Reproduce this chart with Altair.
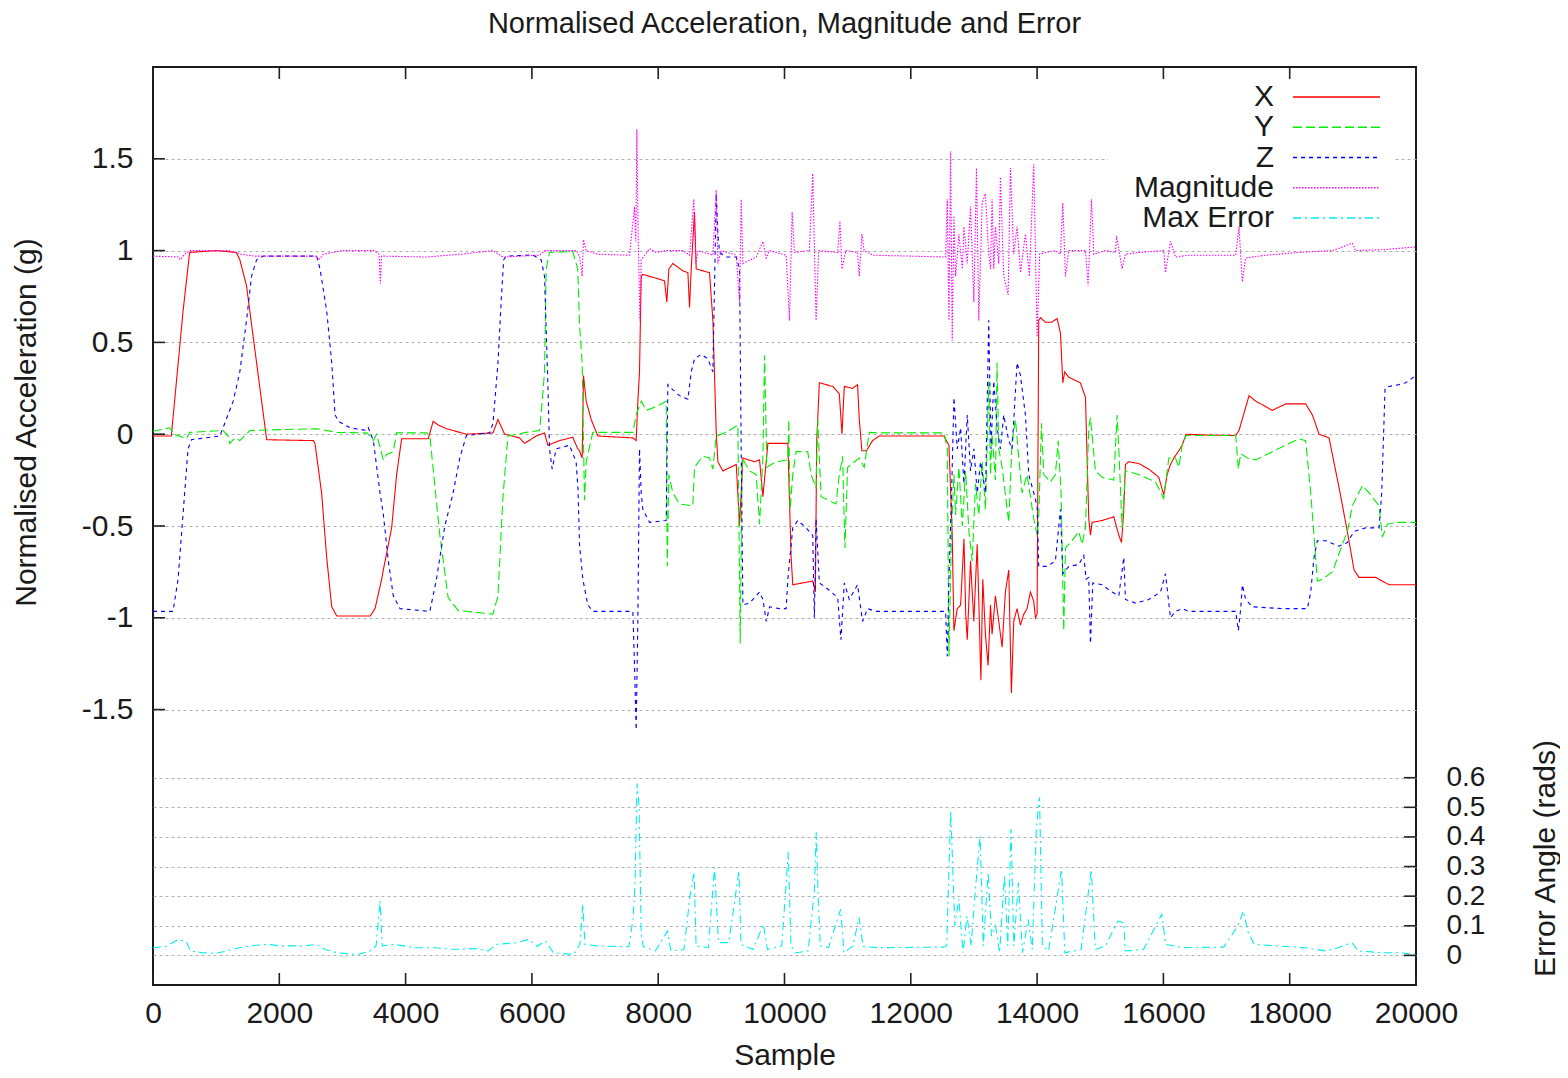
import altair as alt
import pandas as pd

# ---------------- data (sample, value) ----------------
x_points = [
    (0, -0.01), (290, -0.01), (476, 0.67), (580, 0.99), (1000, 1.0), (1320, 0.99), (1375, 0.95),
    (1480, 0.81), (1800, -0.03), (2540, -0.035), (2565, -0.05), (2670, -0.32), (2750, -0.67),
    (2830, -0.94), (2910, -0.99), (3440, -0.99), (3516, -0.95), (3621, -0.79), (3647, -0.74),
    (3779, -0.51), (3858, -0.22), (3937, -0.025), (4358, -0.025), (4437, 0.07), (4516, 0.05),
    (4647, 0.03), (4858, 0.01), (4963, 0.0), (5384, 0.007), (5463, 0.08), (5568, 0.0),
    (5805, -0.02), (5884, -0.05), (6068, -0.01), (6200, 0.007), (6253, -0.06), (6437, -0.035),
    (6647, -0.016), (6726, -0.08), (6754, -0.09), (6796, -0.13), (6817, 0.32), (6860, 0.18),
    (6939, 0.08), (7044, -0.01), (7599, -0.02), (7651, -0.035), (7678, 0.18), (7704, 0.34),
    (7731, 0.86), (7757, 0.87), (7968, 0.85), (8100, 0.835), (8137, 0.72), (8169, 0.9),
    (8232, 0.93), (8391, 0.89), (8470, 0.88), (8496, 0.69), (8523, 0.9), (8575, 1.21),
    (8602, 0.9), (8813, 0.88), (8866, 0.62), (8919, 0.01), (8945, -0.15), (9024, -0.2),
    (9236, -0.165), (9288, -0.5), (9341, -0.13), (9526, -0.15), (9605, -0.14), (9658, -0.34),
    (9737, -0.05), (10053, -0.05), (10105, -0.67), (10131, -0.82), (10447, -0.8), (10489, -0.86),
    (10510, -0.04), (10552, 0.28), (10763, 0.26), (10868, 0.22), (10910, 0.0), (10947, 0.26),
    (11078, 0.25), (11157, 0.27), (11184, 0.08), (11226, -0.09), (11299, -0.09), (11394, -0.035),
    (11499, -0.01), (12525, -0.01), (12604, -0.06), (12656, -0.55), (12683, -1.07), (12736, -0.95),
    (12789, -0.93), (12842, -0.57), (12870, -0.98), (12894, -1.12), (12946, -0.69), (12998, -1.02),
    (13051, -0.6), (13077, -0.91), (13110, -1.34), (13140, -0.79), (13182, -1.09), (13224, -1.26),
    (13262, -0.93), (13287, -1.09), (13340, -0.88), (13393, -1.02), (13446, -1.16), (13498, -0.86),
    (13551, -0.74), (13593, -1.41), (13630, -1.02), (13683, -0.95), (13736, -1.04), (13789, -0.98),
    (13842, -0.95), (13894, -0.86), (13947, -0.91), (13974, -1.0), (14000, -0.98), (14026, 0.62),
    (14053, 0.635), (14132, 0.61), (14230, 0.61), (14317, 0.63), (14370, 0.55), (14407, 0.28),
    (14438, 0.34), (14502, 0.31), (14686, 0.28), (14766, 0.2), (14818, -0.46), (14845, -0.55),
    (14871, -0.48), (15030, -0.47), (15214, -0.45), (15294, -0.55), (15336, -0.59), (15370, -0.43),
    (15399, -0.165), (15452, -0.15), (15610, -0.16), (15769, -0.19), (15927, -0.235), (16006, -0.33),
    (16059, -0.22), (16112, -0.165), (16165, -0.13), (16244, -0.09), (16297, -0.06), (16360, 0.0),
    (16719, -0.005), (17145, -0.007), (17197, 0.02), (17356, 0.21), (17462, 0.18), (17725, 0.13),
    (17937, 0.165), (18253, 0.165), (18359, 0.105), (18465, 0.0), (18623, -0.02), (18781, -0.29),
    (18913, -0.53), (19019, -0.74), (19098, -0.78), (19362, -0.78), (19573, -0.82), (20000, -0.82),
]

y_points = [
    (0, 0.016), (265, 0.035), (330, 0.0), (529, -0.024), (582, 0.01), (1111, 0.02), (1190, -0.01),
    (1217, -0.05), (1300, -0.02), (1375, -0.035), (1480, 0.0), (1534, 0.02), (2592, 0.03),
    (2910, 0.01), (3386, 0.007), (3437, -0.01), (3489, -0.035), (3540, 0.0), (3647, -0.14),
    (3700, -0.11), (3805, -0.095), (3858, 0.007), (4332, 0.007), (4384, -0.01), (4542, -0.55),
    (4674, -0.89), (4832, -0.96), (5384, -0.98), (5463, -0.88), (5542, -0.34), (5621, -0.01),
    (5910, 0.01), (6121, 0.02), (6163, 0.18), (6200, 0.34), (6226, 0.9), (6279, 0.99),
    (6647, 0.995), (6726, 0.9), (6754, 0.6), (6796, 0.39), (6833, -0.36), (6860, -0.15),
    (6965, 0.01), (7599, 0.01), (7651, 0.105), (7731, 0.18), (7810, 0.13), (7968, 0.15),
    (8127, 0.18), (8143, -0.72), (8169, -0.22), (8232, -0.32), (8338, -0.38), (8549, -0.39),
    (8575, -0.18), (8707, -0.12), (8813, -0.13), (8866, -0.19), (8919, -0.01), (9077, 0.01),
    (9262, 0.05), (9299, -1.14), (9330, -0.13), (9446, -0.2), (9552, -0.22), (9605, -0.49),
    (9658, -0.13), (9684, 0.43), (9721, -0.18), (9869, -0.15), (10054, -0.14), (10068, 0.08),
    (10089, -0.41), (10131, -0.22), (10184, -0.095), (10368, -0.095), (10421, -0.22),
    (10500, -0.29), (10526, 0.08), (10579, -0.34), (10815, -0.38), (10868, -0.22), (10920, -0.12),
    (10957, -0.62), (11000, -0.18), (11184, -0.13), (11262, -0.18), (11341, 0.01), (11499, 0.007),
    (12525, 0.007), (12578, -0.08), (12604, -1.21), (12646, -0.51), (12683, -0.22), (12710, -0.44),
    (12762, -0.18), (12815, -0.5), (12868, -0.2), (12920, -0.53), (12973, -0.69), (13025, -0.27),
    (13077, -0.44), (13130, -0.15), (13182, -0.41), (13208, -0.08), (13234, 0.29), (13262, -0.22),
    (13287, 0.0), (13340, -0.25), (13366, 0.39), (13393, -0.08), (13446, -0.18), (13551, -0.48),
    (13604, -0.04), (13657, 0.08), (13710, -0.13), (13762, -0.32), (13842, -0.22), (13894, -0.34),
    (13947, -0.46), (14000, -0.55), (14026, -0.46), (14069, 0.06), (14106, -0.22), (14211, -0.26),
    (14290, -0.22), (14333, -0.035), (14380, -0.32), (14422, -1.07), (14449, -0.62), (14554, -0.58),
    (14660, -0.53), (14713, -0.6), (14766, -0.51), (14818, 0.035), (14845, 0.09), (14924, -0.2),
    (15030, -0.235), (15214, -0.25), (15267, 0.105), (15294, -0.08), (15346, -0.51), (15399, -0.2),
    (15610, -0.22), (15874, -0.26), (16006, -0.35), (16086, -0.13), (16191, -0.13), (16244, -0.18),
    (16297, -0.06), (16360, -0.007), (17145, -0.007), (17187, -0.19), (17224, -0.105),
    (17330, -0.13), (17462, -0.14), (17725, -0.095), (17937, -0.06), (18148, -0.025),
    (18253, -0.035), (18333, -0.32), (18385, -0.55), (18438, -0.8), (18517, -0.79), (18676, -0.75),
    (18781, -0.65), (18913, -0.53), (18992, -0.39), (19151, -0.28), (19257, -0.32), (19415, -0.39),
    (19468, -0.56), (19547, -0.49), (19732, -0.48), (20000, -0.48),
]

z_points = [
    (0, -0.965), (317, -0.965), (397, -0.79), (476, -0.435), (555, -0.08), (608, -0.03),
    (740, -0.024), (1058, -0.01), (1137, 0.06), (1270, 0.18), (1375, 0.34), (1481, 0.62),
    (1560, 0.86), (1640, 0.95), (1746, 0.97), (2592, 0.97), (2645, 0.9), (2751, 0.67),
    (2830, 0.39), (2883, 0.105), (2936, 0.07), (3121, 0.035), (3386, 0.02), (3410, 0.035),
    (3489, -0.035), (3595, -0.32), (3647, -0.435), (3726, -0.69), (3805, -0.88), (3911, -0.95),
    (4384, -0.965), (4489, -0.79), (4621, -0.5), (4753, -0.32), (4858, -0.13), (4963, -0.007),
    (5332, 0.007), (5384, 0.06), (5463, 0.39), (5516, 0.74), (5553, 0.95), (5595, 0.97),
    (6016, 0.976), (6147, 0.95), (6200, 0.86), (6253, 0.27), (6279, -0.08), (6321, -0.19),
    (6384, -0.08), (6595, -0.06), (6700, -0.15), (6730, -0.3), (6754, -0.6), (6807, -0.79),
    (6886, -0.93), (6965, -0.965), (7599, -0.965), (7625, -1.26), (7651, -1.61), (7678, -1.0),
    (7704, -0.08), (7731, -0.32), (7757, -0.41), (7863, -0.48), (8127, -0.47), (8153, 0.27),
    (8206, 0.25), (8338, 0.21), (8470, 0.19), (8523, 0.34), (8575, 0.41), (8681, 0.435),
    (8787, 0.41), (8866, 0.34), (8919, 1.31), (8945, 1.09), (8972, 0.99), (9077, 0.965),
    (9236, 0.965), (9288, 0.9), (9314, -0.08), (9341, -0.93), (9446, -0.92), (9605, -0.86),
    (9658, -0.9), (9711, -1.02), (9764, -0.94), (9922, -0.95), (10026, -0.95), (10053, -0.79),
    (10131, -0.51), (10210, -0.47), (10342, -0.51), (10447, -0.55), (10473, -1.0), (10500, -0.46),
    (10552, -0.81), (10710, -0.85), (10842, -0.89), (10894, -1.12), (10947, -0.81), (11026, -0.9),
    (11157, -0.82), (11236, -1.02), (11315, -0.95), (11447, -0.965), (12551, -0.965),
    (12578, -1.21), (12604, -0.79), (12646, -0.32), (12683, 0.2), (12736, -0.08), (12789, 0.035),
    (12841, -0.27), (12894, 0.105), (12946, -0.2), (12999, -0.08), (13052, -0.32), (13105, -0.15),
    (13184, -0.32), (13234, 0.62), (13270, -0.08), (13314, 0.29), (13367, 0.035), (13419, -0.08),
    (13472, 0.105), (13551, -0.035), (13604, -0.08), (13683, 0.39), (13736, 0.32), (13815, 0.105),
    (13868, -0.22), (13947, -0.32), (14000, -0.39), (14026, -0.72), (14158, -0.72), (14290, -0.69),
    (14370, -0.41), (14407, -0.76), (14502, -0.72), (14660, -0.71), (14739, -0.66), (14776, -0.79),
    (14818, -0.78), (14845, -1.14), (14882, -0.81), (15030, -0.82), (15188, -0.86), (15294, -0.88),
    (15373, -0.67), (15399, -0.9), (15558, -0.92), (15769, -0.9), (15954, -0.86), (16033, -0.76),
    (16112, -1.0), (16191, -0.965), (16297, -0.95), (16402, -0.965), (17145, -0.965),
    (17187, -1.07), (17224, -0.95), (17250, -0.82), (17303, -0.9), (17409, -0.94), (17884, -0.95),
    (18280, -0.95), (18333, -0.86), (18385, -0.67), (18438, -0.58), (18570, -0.58), (18781, -0.61),
    (18913, -0.59), (19019, -0.53), (19204, -0.51), (19415, -0.51), (19457, -0.32), (19510, 0.25),
    (19573, 0.26), (19732, 0.27), (19838, 0.28), (20000, 0.32),
]

mag_points = [
    (0, 0.97), (400, 0.965), (430, 0.95), (500, 0.98), (580, 1.0), (1200, 1.0), (1400, 0.98),
    (1600, 0.97), (2592, 0.97), (2620, 0.95), (2700, 0.98), (3000, 1.0), (3500, 1.0),
    (3580, 0.98), (3600, 0.82), (3620, 0.97), (4332, 0.965), (4858, 0.98), (5384, 1.0),
    (5542, 0.965), (6121, 0.975), (6200, 1.0), (6701, 1.0), (6754, 0.97), (6796, 0.86),
    (6817, 1.06), (6860, 1.0), (7044, 0.98), (7547, 0.975), (7625, 1.24), (7645, 1.05),
    (7662, 1.66), (7683, 1.09), (7710, 0.62), (7731, 0.95), (7863, 1.01), (7968, 0.99),
    (8127, 1.0), (8390, 1.0), (8496, 0.975), (8565, 1.28), (8597, 0.93), (8630, 1.0),
    (8866, 0.975), (8919, 1.33), (8945, 0.93), (8998, 1.0), (9236, 0.975), (9288, 0.72),
    (9314, 1.28), (9341, 0.93), (9552, 0.965), (9658, 1.05), (9711, 0.96), (9764, 1.0),
    (10026, 0.975), (10079, 0.62), (10121, 1.21), (10158, 0.99), (10394, 1.0), (10447, 1.42),
    (10500, 0.62), (10542, 1.0), (10842, 0.99), (10878, 1.16), (10910, 0.9), (10973, 1.0),
    (11157, 0.99), (11184, 0.86), (11226, 1.09), (11262, 1.0), (11394, 0.975), (12551, 0.965),
    (12578, 1.28), (12604, 0.62), (12630, 1.54), (12656, 0.51), (12683, 1.19), (12710, 0.86),
    (12762, 1.09), (12815, 0.9), (12841, 1.13), (12894, 0.93), (12946, 1.24), (12999, 0.72),
    (13040, 1.45), (13077, 0.62), (13130, 1.26), (13182, 1.31), (13234, 0.98), (13262, 0.9),
    (13287, 1.28), (13314, 0.9), (13340, 1.13), (13393, 0.93), (13419, 1.4), (13472, 0.86),
    (13541, 0.76), (13578, 1.45), (13630, 0.98), (13683, 1.13), (13736, 0.88), (13815, 1.09),
    (13878, 0.86), (13947, 1.47), (14000, 0.53), (14040, 0.98), (14132, 0.99), (14290, 1.0),
    (14370, 0.98), (14407, 1.26), (14449, 0.86), (14502, 1.0), (14766, 1.0), (14808, 0.81),
    (14861, 1.28), (14898, 0.98), (15082, 1.0), (15240, 0.99), (15257, 1.08), (15346, 0.9),
    (15399, 0.98), (15610, 0.99), (16006, 1.0), (16033, 0.88), (16112, 1.05), (16191, 0.965),
    (16400, 0.975), (17145, 0.975), (17197, 1.13), (17250, 0.83), (17303, 0.96), (17620, 0.975),
    (18148, 0.99), (18676, 1.0), (18992, 1.04), (19045, 1.0), (19468, 1.005), (20000, 1.02),
]

err_points = [
    (0, 0.026), (200, 0.03), (400, 0.054), (530, 0.045), (594, 0.015), (788, 0.009),
    (981, 0.007), (1175, 0.015), (1369, 0.026), (1627, 0.034), (1821, 0.037), (2015, 0.032),
    (2402, 0.032), (2596, 0.037), (2725, 0.02), (2918, 0.009), (3241, 0.003), (3435, 0.015),
    (3532, 0.032), (3597, 0.184), (3629, 0.032), (3823, 0.037), (4145, 0.026), (4468, 0.026),
    (4791, 0.02), (5114, 0.023), (5308, 0.015), (5437, 0.037), (5760, 0.043), (5953, 0.054),
    (6082, 0.03), (6212, 0.049), (6341, 0.009), (6664, 0.003), (6760, 0.037), (6806, 0.173),
    (6840, 0.037), (7051, 0.032), (7535, 0.029), (7600, 0.122), (7632, 0.235), (7665, 0.58),
    (7697, 0.506), (7730, 0.077), (7762, 0.03), (7955, 0.015), (8148, 0.082), (8200, 0.015),
    (8407, 0.02), (8504, 0.2), (8568, 0.28), (8600, 0.032), (8794, 0.026), (8891, 0.297),
    (8955, 0.043), (9117, 0.043), (9279, 0.286), (9311, 0.037), (9505, 0.02), (9666, 0.105),
    (9730, 0.02), (9957, 0.032), (10060, 0.35), (10103, 0.032), (10181, 0.009), (10374, 0.015),
    (10471, 0.212), (10503, 0.416), (10535, 0.19), (10568, 0.032), (10697, 0.026), (10890, 0.156),
    (10942, 0.009), (11084, 0.032), (11181, 0.128), (11245, 0.03), (11471, 0.026), (12503, 0.028),
    (12568, 0.032), (12632, 0.489), (12697, 0.1), (12761, 0.19), (12826, 0.009), (12890, 0.133),
    (12955, 0.032), (13019, 0.212), (13097, 0.405), (13148, 0.032), (13226, 0.28), (13277, 0.065),
    (13342, 0.1), (13406, 0.009), (13484, 0.27), (13535, 0.032), (13587, 0.427), (13632, 0.032),
    (13703, 0.246), (13768, 0.009), (13858, 0.122), (13923, 0.02), (13987, 0.427), (14039, 0.534),
    (14084, 0.032), (14181, 0.015), (14387, 0.29), (14439, 0.009), (14697, 0.02), (14858, 0.29),
    (14923, 0.02), (15084, 0.032), (15277, 0.116), (15374, 0.11), (15394, 0.015), (15685, 0.02),
    (15974, 0.139), (16039, 0.037), (16310, 0.026), (16955, 0.028), (17181, 0.1), (17265, 0.15),
    (17342, 0.077), (17439, 0.037), (17794, 0.032), (18245, 0.026), (18568, 0.015), (18762, 0.026),
    (18987, 0.043), (19084, 0.015), (19471, 0.009), (19729, 0.009), (20000, 0.003),
]

series_names = ["X", "Y", "Z", "Magnitude", "Max Error"]
series_colors = ["#ff0000", "#00ee00", "#0000ff", "#ff00ff", "#00eeee"]
series_dashes = [[1, 0], [9, 4], [4, 4], [1.5, 1.5], [8, 4, 2, 4]]

title_text = ["Normalised Acceleration, Magnitude and Error"]
x_ticks = [0, 2000, 4000, 6000, 8000, 10000, 12000, 14000, 16000, 18000, 20000]
y_ticks = [-1.5, -1, -0.5, 0, 0.5, 1, 1.5]
y2_ticks = [0, 0.1, 0.2, 0.3, 0.4, 0.5, 0.6]

# ---------------- tables ----------------
def table(name, pts):
    return pd.DataFrame({"sample": [p[0] for p in pts], "value": [p[1] for p in pts], "series": name})

accel_df = pd.concat([table("X", x_points), table("Y", y_points),
                      table("Z", z_points), table("Magnitude", mag_points)], ignore_index=True)
err_df = table("Max Error", err_points)
legend_df = pd.DataFrame({"series": series_names, "idx": list(range(len(series_names)))})
xt_df = pd.DataFrame({"t": x_ticks})
yt_df = pd.DataFrame({"t": y_ticks})
y2t_df = pd.DataFrame({"t": y2_ticks})
title_df = pd.DataFrame({"t": title_text})

W, H = 1263, 918
FONT = "Liberation Sans"
FS = 30
INK = "#1a1a1a"

color_scale = alt.Scale(domain=series_names, range=series_colors)
dash_scale = alt.Scale(domain=series_names, range=series_dashes)
left_scale = alt.Scale(domain=[-3, 2], nice=False, zero=False)
right_scale = alt.Scale(domain=[-0.1, 3], nice=False, zero=False)
x_scale = alt.Scale(domain=[0, 20000], nice=False, zero=False)
leg_scale = alt.Scale(domain=[0, 4], range=[30, 151])

x_axis = alt.Axis(values=x_ticks, labelExpr="'' + datum.value", title="Sample",
                  ticks=False, domain=False, grid=False, labelFlush=False, labelOverlap=False,
                  labelFont=FONT, labelFontSize=FS, labelColor=INK, labelPadding=13,
                  titleFont=FONT, titleFontSize=FS, titleFontWeight="normal", titleColor=INK,
                  titleY=79, titleBaseline="alphabetic")
X_ENC = alt.X("sample:Q", scale=x_scale, axis=x_axis)
XT_ENC = alt.X("t:Q", scale=x_scale, axis=x_axis)

left_axis = alt.Axis(values=y_ticks, orient="left", labelExpr="'' + datum.value",
                     title="Normalised Acceleration (g)", ticks=False, domain=False,
                     labelOverlap=False, labelFlush=False,
                     grid=True, gridDash=[3, 3], gridColor="#b0b0b0", gridWidth=1,
                     labelFont=FONT, labelFontSize=FS, labelColor=INK, labelPadding=20,
                     titleFont=FONT, titleFontSize=FS, titleFontWeight="normal", titleColor=INK,
                     titleAngle=270, titleX=-112, titleY=355, titleBaseline="bottom")
right_axis = alt.Axis(values=y2_ticks, orient="right", labelExpr="'' + datum.value",
                      title="Error Angle (rads)", ticks=False, domain=False,
                      labelOverlap=False, labelFlush=False, labelBound=False,
                      grid=True, gridDash=[3, 3], gridColor="#b0b0b0", gridWidth=1,
                      labelFont=FONT, labelFontSize=28, labelColor=INK, labelPadding=30,
                      titleFont=FONT, titleFontSize=FS, titleFontWeight="normal", titleColor=INK,
                      titleAngle=270, titleX=144, titleY=791, titleBaseline="bottom")

# white key box masking the grid
key_box = alt.Chart(pd.DataFrame({"k": [0]})).mark_rect(color="white").encode(
    x=alt.value(955), x2=alt.value(1242), y=alt.value(14), y2=alt.value(166))

accel = alt.Chart(accel_df).mark_line(strokeWidth=1.1).encode(
    x=X_ENC,
    y=alt.Y("value:Q", scale=left_scale, axis=left_axis),
    color=alt.Color("series:N", scale=color_scale, legend=None),
    strokeDash=alt.StrokeDash("series:N", scale=dash_scale, legend=None),
    detail="series:N",
)

err = alt.Chart(err_df).mark_line(strokeWidth=1.1).encode(
    x=X_ENC,
    y=alt.Y("value:Q", scale=right_scale, axis=right_axis),
    color=alt.Color("series:N", scale=color_scale, legend=None),
    strokeDash=alt.StrokeDash("series:N", scale=dash_scale, legend=None),
)

tick_style = dict(color="#222222", strokeWidth=1.6)
bottom_ticks = alt.Chart(xt_df).mark_rule(**tick_style).encode(
    x=XT_ENC, y=alt.value(H), y2=alt.value(H - 12))
top_ticks = alt.Chart(xt_df).mark_rule(**tick_style).encode(
    x=XT_ENC, y=alt.value(0), y2=alt.value(12))
left_ticks = alt.Chart(yt_df).mark_rule(**tick_style).encode(
    y=alt.Y("t:Q", scale=left_scale, axis=None), x=alt.value(0), x2=alt.value(12))
right_ticks = alt.Chart(y2t_df).mark_rule(**tick_style).encode(
    y=alt.Y("t:Q", scale=right_scale, axis=None), x=alt.value(W), x2=alt.value(W - 12))

key_text = alt.Chart(legend_df).mark_text(align="right", baseline="middle", font=FONT,
                                          fontSize=FS, color=INK).encode(
    x=alt.value(1121), y=alt.Y("idx:Q", scale=leg_scale, axis=None), text="series:N")
key_lines = alt.Chart(legend_df).mark_rule(strokeWidth=1.3).encode(
    x=alt.value(1140), x2=alt.value(1227),
    y=alt.Y("idx:Q", scale=leg_scale, axis=None),
    color=alt.Color("series:N", scale=color_scale, legend=None),
    strokeDash=alt.StrokeDash("series:N", scale=dash_scale, legend=None),
)

title_mark = alt.Chart(title_df).mark_text(align="center", baseline="alphabetic", font=FONT,
                                           fontSize=29, color=INK).encode(
    x=alt.value(W / 2), y=alt.value(-34), text="t:N")

chart = alt.layer(
    key_box, accel, err, bottom_ticks, top_ticks, left_ticks, right_ticks,
    key_text, key_lines, title_mark
).resolve_scale(y="independent").properties(
    width=W, height=H,
    background="white",
    autosize=alt.AutoSizeParams(type="none"),
    padding={"left": 145, "top": 59, "right": 144, "bottom": 85},
).configure_view(stroke="#1a1a1a", strokeWidth=2)

chart.save("out.html", embed_options={"renderer": "svg", "actions": False})
